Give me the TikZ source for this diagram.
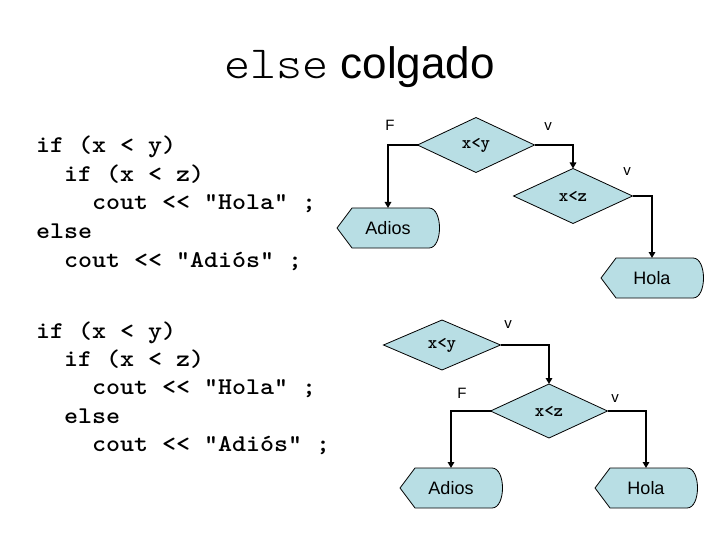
\documentclass[tikz,border=0pt]{standalone}
\usepackage{fontspec}
\setmainfont{Liberation Sans}
\usetikzlibrary{shapes.geometric,arrows.meta}
\definecolor{flujo}{RGB}{184,222,228}
\tikzset{
  decision/.style={diamond, draw, line width=0.8pt, fill=flujo, minimum width=117pt, minimum height=55pt, inner sep=0pt, outer sep=0pt, font=\ttfamily\bfseries\fontsize{18}{18}\selectfont},
  salida/.style={minimum width=102pt, minimum height=40pt, inner sep=0pt, outer sep=0pt, font=\fontsize{18}{18}\selectfont},
  flecha/.style={line width=1.7pt, -{Triangle[length=6pt,width=6.5pt]}},
  rotulo/.style={font=\fontsize{15}{15}\selectfont},
  codigo/.style={anchor=base west, inner sep=0pt, font=\ttfamily\bfseries\fontsize{24}{28}\selectfont}
}
% outline of an output box centred at (#1,#2)
\newcommand{\salidabox}[2]{%
  \draw[line width=0.8pt, fill=flujo] (#1-51,#2) -- (#1-36,#2-20) -- (#1+41,#2-20)
    .. controls (#1+55,#2-20) and (#1+55,#2+20) .. (#1+41,#2+20) -- (#1-36,#2+20) -- cycle;
}
\begin{document}
\begin{tikzpicture}[x=1pt,y=-1pt]
        \useasboundingbox (0,0) rectangle (720,540);

        % Title
        \node[anchor=base west, inner sep=0pt, font=\fontsize{44}{44}\selectfont] (titulo) at (224,79)
            {\scalebox{1.08}[1]{\ttfamily\fontseries{l}\fontsize{46}{46}\selectfont else} colgado};

        % Code lines (indent in characters)
        \foreach \ind/\y/\txt in {0/153/{if (x < y)}, 2/182/{if (x < z)}, 4/210/{cout << "Hola" ;}, 0/238/{else}, 2/267/{cout << "Adiós" ;},
                                  0/338/{if (x < y)}, 2/366/{if (x < z)}, 4/394/{cout << "Hola" ;}, 2/423/{else}, 4/451/{cout << "Adiós" ;}} {
            \node[codigo] at (36+14*\ind,\y) {\scalebox{1.111}[1]{\txt}};
        }

        % First flowchart
        \node[decision] (xy1) at (476,145) {x<y};
        \node[decision, minimum width=119pt] (xz1) at (573,196) {x<z};
        \salidabox{388}{228}
        \node[salida] (adios1) at (388,228) {Adios};
        \salidabox{652}{278}
        \node[salida] (hola1) at (652,278) {Hola};

        \draw[flecha] (xy1.west) -| (adios1.north);
        \draw[flecha] (xy1.east) -| (xz1.north);
        \draw[flecha] (xz1.east) -| (hola1.north);

        \node[rotulo] at (390,125) {F};
        \node[rotulo] at (548,127) {v};
        \node[rotulo] at (627,172) {v};

        % Second flowchart
        \node[decision, minimum height=50pt] (xy2) at (442,345) {x<y};
        \node[decision, minimum height=54pt] (xz2) at (549,411) {x<z};
        \salidabox{451}{488}
        \node[salida] (adios2) at (451,488) {Adios};
        \salidabox{646}{488}
        \node[salida] (hola2) at (646,488) {Hola};

        \draw[flecha] (xy2.east) -| (xz2.north);
        \draw[flecha] (xz2.west) -| (adios2.north);
        \draw[flecha] (xz2.east) -| (hola2.north);

        \node[rotulo] at (508,325) {v};
        \node[rotulo] at (462,393) {F};
        \node[rotulo] at (615,399) {v};

\end{tikzpicture}
\end{document}
